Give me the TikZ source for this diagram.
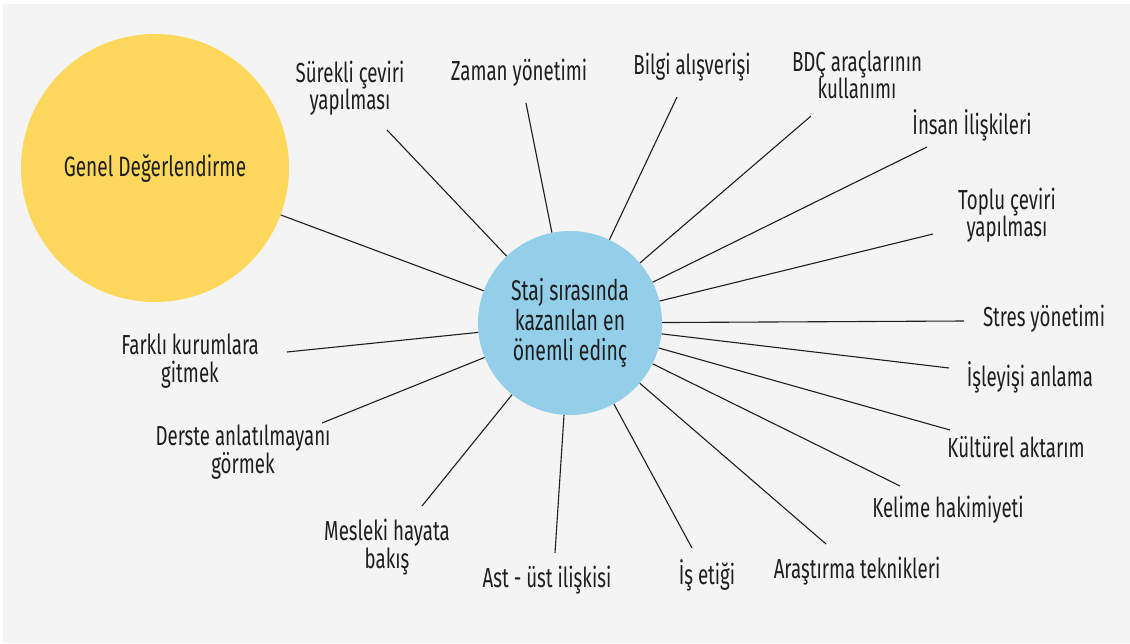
\documentclass[tikz,border=0pt]{standalone}
\usepackage{xcolor}
\usepackage{fontspec}
\setmainfont{Fira Sans}[FakeStretch=0.68]
\usepackage{tikz}

\definecolor{bgGray}{HTML}{F4F4F4}
\definecolor{sunYellow}{HTML}{FDD85D}
\definecolor{skyBlue}{HTML}{94CFEA}
\definecolor{inkGray}{HTML}{1E1E1E}

\begin{document}
\begin{tikzpicture}[x=1pt, y=-1pt,
    spoke/.style={draw=inkGray, line width=1.1pt},
    lbl/.style={align=center, font=\fontsize{27.5}{27.5}\selectfont, inner sep=0pt, text=inkGray}]
    \useasboundingbox (0,0) rectangle (1130,643);
    \fill[bgGray] (3,4) rectangle (1130,643);

    \node[circle, fill=sunYellow, minimum size=268pt, inner sep=0pt, text=inkGray, font=\fontsize{28}{30}\selectfont] (genel) at (155,168) {Genel Değerlendirme};
    \node[circle, fill=skyBlue, minimum size=184pt, inner sep=0pt, align=center, text=inkGray, font=\fontsize{28.5}{30}\selectfont] (hub) at (570,323) {Staj sırasında\\kazanılan en\\önemli edinç};

    \node[lbl] (surekli) at (350,88) {Sürekli çeviri\\yapılması};
    \node[lbl] (zaman) at (519,73) {Zaman yönetimi};
    \node[lbl] (bilgi) at (692,67) {Bilgi alışverişi};
    \node[lbl] (bdc) at (857,75) {BDÇ araçlarının\\kullanımı};
    \node[lbl] (insan) at (972,125) {İnsan İlişkileri};
    \node[lbl] (toplu) at (1007,215) {Toplu çeviri\\yapılması};
    \node[lbl] (stres) at (1044,319) {Stres yönetimi};
    \node[lbl] (isleyis) at (1030,377) {İşleyişi anlama};
    \node[lbl] (kultur) at (1016,447) {Kültürel aktarım};
    \node[lbl] (kelime) at (948,510) {Kelime hakimiyeti};
    \node[lbl] (arastirma) at (857,571) {Araştırma teknikleri};
    \node[lbl] (etik) at (707,575) {İş etiği};
    \node[lbl] (astust) at (547,580) {Ast - üst ilişkisi};
    \node[lbl] (mesleki) at (387,547) {Mesleki hayata\\bakış};
    \node[lbl] (derste) at (243,452) {Derste anlatılmayanı\\görmek};
    \node[lbl] (farkli) at (190,361) {Farklı kurumlara\\gitmek};

    % free ends of the spokes, near each label
    \coordinate (eSurekli) at (387,130);
    \coordinate (eZaman) at (526,103);
    \coordinate (eBilgi) at (677,97);
    \coordinate (eBdc) at (811,116);
    \coordinate (eInsan) at (927,147);
    \coordinate (eToplu) at (933,234);
    \coordinate (eStres) at (964,321);
    \coordinate (eIsleyis) at (949,368);
    \coordinate (eKultur) at (950,430);
    \coordinate (eKelime) at (900,486);
    \coordinate (eArastirma) at (826,544);
    \coordinate (eEtik) at (692,548);
    \coordinate (eAstust) at (555,553);
    \coordinate (eMesleki) at (422,506);
    \coordinate (eDerste) at (322,423);
    \coordinate (eFarkli) at (287,352);

    \draw[spoke] (genel) -- (hub);
    \foreach \e in {eSurekli,eZaman,eBilgi,eBdc,eInsan,eToplu,eStres,eIsleyis,eKultur,eKelime,eArastirma,eEtik,eAstust,eMesleki,eDerste,eFarkli}
        \draw[spoke] (hub) -- (\e);
\end{tikzpicture}
\end{document}
